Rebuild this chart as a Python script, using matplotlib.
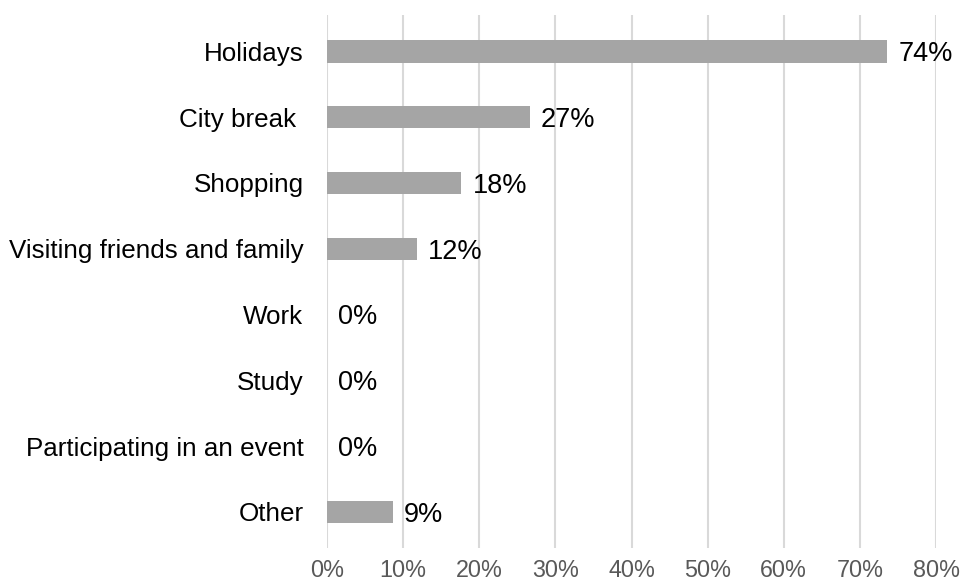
import matplotlib.pyplot as plt
import numpy as np

plt.rcParams['font.family'] = ['Liberation Sans', 'DejaVu Sans']

# Data
categories = ['Holidays', 'City break ', 'Shopping', 'Visiting friends and family',
              'Work', 'Study', 'Participating in an event', 'Other']
shares = [73.6, 26.6, 17.6, 11.8, 0.0, 0.0, 0.0, 8.6]
x_ticks = [0, 10, 20, 30, 40, 50, 60, 70, 80]

fig = plt.figure(figsize=(9.62, 5.81), dpi=100)
ax = fig.add_axes([0.340, 0.0568, 0.633, 0.917])

y = np.arange(len(categories))
ax.barh(y, shares, height=0.34, color='#a5a5a5', zorder=2)

for yi, v in zip(y, shares):
    ax.text(v + 1.5, yi, f'{v:.0f}%', va='center_baseline', ha='left', fontsize=19.5, color='#000000')

ax.set_xlim(0, 80)
ax.set_ylim(len(categories) - 0.45, -0.55)
ax.set_xticks(x_ticks)
ax.set_xticklabels([f'{t}%' for t in x_ticks], fontsize=16.8, color='#595959')
ax.set_yticks(y)
ax.set_yticklabels(categories, fontsize=18.7, color='#000000', va='center_baseline')
ax.tick_params(axis='both', length=0)
ax.tick_params(axis='x', pad=8)
ax.tick_params(axis='y', pad=17)
ax.grid(axis='x', color='#d9d9d9', linewidth=1.5, zorder=0)
ax.set_axisbelow(True)
for s in ax.spines.values():
    s.set_visible(False)

fig.savefig('out.png', dpi=100)
